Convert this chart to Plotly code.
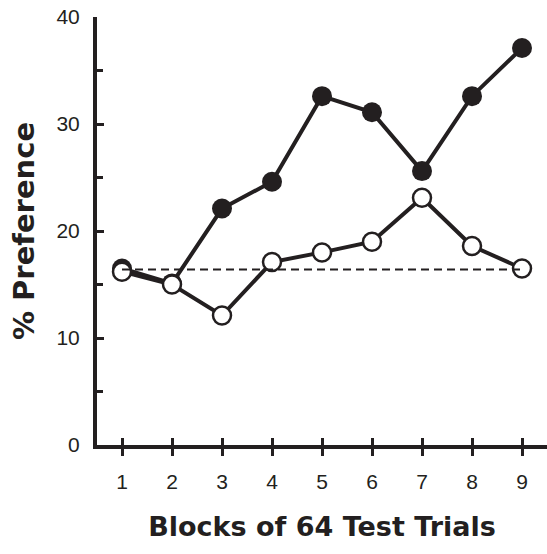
import plotly.graph_objects as go

blocks = [1, 2, 3, 4, 5, 6, 7, 8, 9]
filled_vals = [16.5, 15.1, 22.1, 24.6, 32.6, 31.1, 25.6, 32.6, 37.1]
open_vals = [16.2, 15.0, 12.1, 17.1, 18.0, 19.0, 23.1, 18.6, 16.5]
chance_level = 16.4
y_ticks = [0, 10, 20, 30, 40]

INK = "#231f20"

fig = go.Figure()
fig.add_trace(go.Scatter(
    x=blocks, y=filled_vals, mode="lines+markers",
    line=dict(color=INK, width=4),
    marker=dict(size=20, color=INK, line=dict(width=0)),
    showlegend=False, cliponaxis=False))
fig.add_trace(go.Scatter(
    x=blocks, y=open_vals, mode="lines+markers",
    line=dict(color=INK, width=4),
    marker=dict(size=18, color="white", line=dict(color=INK, width=2.5)),
    showlegend=False, cliponaxis=False))
fig.add_trace(go.Scatter(
    x=[blocks[0], blocks[-1]], y=[chance_level, chance_level], mode="lines",
    line=dict(color=INK, width=2, dash="8px,5px"),
    xaxis="x2", showlegend=False, cliponaxis=False))

tickfont = dict(family="Liberation Sans, Arial, sans-serif", size=21, color=INK)
titlefamily = "DejaVu Sans, Liberation Sans, Arial, sans-serif"

fig.update_layout(
    width=547, height=554,
    margin=dict(l=97, r=0, t=17, b=109),
    paper_bgcolor="white", plot_bgcolor="white",
    xaxis=dict(
        range=[0.5, 9.5], tickvals=blocks, ticktext=[str(b) for b in blocks],
        showgrid=False, zeroline=False, showline=True, linecolor=INK, linewidth=4,
        ticks="outside", ticklen=7, tickwidth=3, tickcolor=INK,
        tickfont=tickfont, ticklabelstandoff=8, automargin=False,
        ticklabeloverflow="allow",
        title=dict(text="Blocks of 64 Test Trials",
                   font=dict(family=titlefamily, size=27, color=INK, weight="bold"),
                   standoff=26),
    ),
    xaxis2=dict(
        range=[0.5, 9.5], tickvals=blocks, overlaying="x", anchor="y",
        showgrid=False, zeroline=False, showline=False,
        ticks="inside", ticklen=7, tickwidth=3, tickcolor=INK,
        showticklabels=False, side="bottom", automargin=False,
    ),
    yaxis=dict(
        range=[0, 40], tickvals=y_ticks,
        showgrid=False, zeroline=False, showline=True, linecolor=INK, linewidth=4,
        ticks="inside", ticklen=7, tickwidth=3, tickcolor=INK,
        minor=dict(dtick=5, ticks="inside", ticklen=6, tickwidth=3, tickcolor=INK),
        tickfont=tickfont, ticklabelstandoff=9, automargin=False,
        ticklabeloverflow="allow",
        title=dict(text="% Preference",
                   font=dict(family=titlefamily, size=29, color=INK, weight="bold"),
                   standoff=14),
    ),
)

fig.write_html(
    "out.html",
    config={"displayModeBar": False},
    post_script="document.body.style.margin='0';document.body.style.overflow='hidden';",
)
